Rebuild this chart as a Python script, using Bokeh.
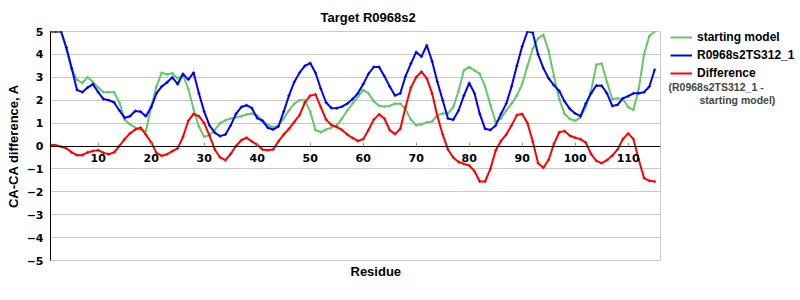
from bokeh.plotting import figure
from bokeh.layouts import row
from bokeh.models import Range1d, FixedTicker, Label, Legend, LegendItem, Title
from bokeh.embed import file_html
from bokeh.resources import INLINE

residues = list(range(1, 116))

starting_model = [
    5.0, 5.0, 5.0, 4.2, 3.35, 2.9, 2.75, 3.0, 2.8, 2.55,
    2.35, 2.35, 2.35, 1.9, 1.15, 0.95, 0.8, 0.72, 0.65, 1.7,
    2.6, 3.2, 3.12, 3.18, 2.95, 3.1, 2.5, 1.6, 0.85, 0.4,
    0.48, 0.7, 1.0, 1.12, 1.2, 1.25, 1.3, 1.38, 1.42, 1.32,
    1.12, 0.92, 0.82, 0.9, 1.2, 1.55, 1.85, 2.0, 2.0, 1.5,
    0.7, 0.6, 0.72, 0.8, 0.9, 1.2, 1.55, 1.85, 2.15, 2.45,
    2.3, 1.95, 1.76, 1.72, 1.75, 1.85, 1.85, 1.6, 1.15, 0.9,
    0.95, 1.03, 1.07, 1.35, 1.42, 1.42, 1.7, 2.4, 3.3, 3.45,
    3.3, 3.15, 2.6, 1.8, 1.05, 1.2, 1.55, 1.85, 2.2, 2.7,
    3.5, 4.25, 4.7, 4.85, 4.15, 3.05, 2.05, 1.4, 1.18, 1.1,
    1.25, 1.7, 2.4, 3.55, 3.6, 2.8, 2.05, 2.08, 2.05, 1.7,
    1.58, 2.5, 4.0, 4.8, 5.0,
]

model_ts312 = [
    5.0, 5.0, 5.0, 4.3, 3.4, 2.45, 2.35, 2.55, 2.7, 2.35,
    2.05, 2.0, 1.9, 1.55, 1.23, 1.3, 1.53, 1.5, 1.3, 1.7,
    2.3, 2.6, 2.78, 3.0, 2.7, 3.15, 2.9, 3.2, 2.3, 1.5,
    0.9, 0.58, 0.43, 0.5, 0.9, 1.4, 1.7, 1.78, 1.65, 1.22,
    1.1, 0.8, 0.72, 0.85, 1.5, 2.2, 2.8, 3.2, 3.5, 3.62,
    3.2, 2.5, 1.9, 1.66, 1.65, 1.72, 1.85, 2.05, 2.3, 2.7,
    3.15, 3.45, 3.45, 3.05, 2.6, 2.2, 2.3, 3.05, 3.6, 4.1,
    3.9, 4.4, 3.7, 2.8, 2.0, 1.2, 1.15, 1.55, 2.2, 2.75,
    2.3, 1.4, 0.75, 0.7, 0.9, 1.4, 1.85, 2.6, 3.5, 4.35,
    5.0, 4.95, 4.0, 3.4, 2.95, 2.65, 2.4, 1.95, 1.62, 1.42,
    1.3, 1.85, 2.3, 2.64, 2.63, 2.3, 1.75, 1.8, 2.08, 2.18,
    2.3, 2.3, 2.35, 2.6, 3.33,
]

difference = [
    0.05, 0.03, -0.03, -0.1, -0.28, -0.4, -0.4, -0.28, -0.22, -0.18,
    -0.3, -0.36, -0.28, 0.0, 0.3, 0.55, 0.72, 0.8, 0.5, 0.15,
    -0.3, -0.43, -0.36, -0.22, -0.1, 0.4, 1.1, 1.4, 1.3, 1.0,
    0.45, -0.15, -0.5, -0.62, -0.35, 0.0, 0.25, 0.36, 0.2, 0.05,
    -0.15, -0.19, -0.15, 0.2, 0.5, 0.75, 1.05, 1.35, 1.9, 2.2,
    2.25, 1.7, 1.15, 0.92, 0.83, 0.7, 0.5, 0.35, 0.22, 0.3,
    0.7, 1.15, 1.38, 1.2, 0.7, 0.52, 0.75, 1.7, 2.55, 3.0,
    3.25, 2.95, 2.3, 1.3, 0.5, -0.15, -0.5, -0.7, -0.78, -0.85,
    -1.1, -1.55, -1.55, -1.0, -0.2, 0.22, 0.5, 0.9, 1.35, 1.4,
    1.0, 0.2, -0.75, -0.95, -0.6, 0.1, 0.6, 0.65, 0.45, 0.36,
    0.3, 0.15, -0.35, -0.65, -0.75, -0.62, -0.42, -0.15, 0.3, 0.55,
    0.3, -0.6, -1.4, -1.52, -1.55,
]

x_ticks = [10, 20, 30, 40, 50, 60, 70, 80, 90, 100, 110]
y_ticks = [-5, -4, -3, -2, -1, 0, 1, 2, 3, 4, 5]

title_text = "Target R0968s2"
x_title = "Residue"
y_title = "CA-CA difference, A"
series_names = ["starting model", "R0968s2TS312_1", "Difference"]
diff_note = ["(R0968s2TS312_1 -", "starting model)"]

GREEN = "#66c766"
BLUE = "#0000ff"
RED = "#ff0000"
GRID = "#c8c8c8"
FONT = "Liberation Sans"
TICK_FONT = "DejaVu Sans"

p = figure(width=662, height=300, output_backend="svg", toolbar_location=None,
           x_range=Range1d(1, 116.1), y_range=Range1d(-5, 5),
           min_border_left=50, min_border_right=2, min_border_top=30,
           min_border_bottom=40)
p.background_fill_color = "white"
p.border_fill_color = "white"
p.outline_line_color = GRID

p.title.text = title_text
p.title.align = "left"
p.title.offset = 270
p.title.standoff = 14
p.title.text_font = FONT
p.title.text_font_style = "bold"
p.title.text_font_size = "13px"
p.title.text_color = "black"

p.xgrid.visible = False
p.ygrid.ticker = FixedTicker(ticks=y_ticks)
p.ygrid.grid_line_color = GRID

# y axis
p.yaxis.ticker = FixedTicker(ticks=y_ticks)
p.yaxis.major_label_overrides = {t: (str(t) if t >= 0 else "\u2212" + str(-t)) for t in y_ticks}
p.yaxis.major_tick_in = 0
p.yaxis.major_tick_out = 0
p.yaxis.minor_tick_line_color = None
p.yaxis.axis_line_color = "black"
p.yaxis.major_label_standoff = 7
p.yaxis.major_label_text_font = TICK_FONT
p.yaxis.major_label_text_font_style = "bold"
p.yaxis.major_label_text_font_size = "11px"
p.yaxis.major_label_text_color = "black"
p.yaxis.axis_label = y_title
p.yaxis.axis_label_text_font = FONT
p.yaxis.axis_label_text_font_style = "bold"
p.yaxis.axis_label_text_font_size = "13px"
p.yaxis.axis_label_text_color = "black"
p.yaxis.axis_label_standoff = 3

# x axis drawn at y = 0
p.xaxis.fixed_location = 0
p.xaxis.ticker = FixedTicker(ticks=x_ticks)
p.xaxis.major_tick_in = 4
p.xaxis.major_tick_out = 0
p.xaxis.major_tick_line_color = "#999999"
p.xaxis.minor_tick_line_color = None
p.xaxis.axis_line_color = "black"
p.xaxis.major_label_standoff = 8
p.xaxis.major_label_text_font = TICK_FONT
p.xaxis.major_label_text_font_style = "bold"
p.xaxis.major_label_text_font_size = "11px"
p.xaxis.major_label_text_color = "black"

p.add_layout(Title(text=x_title, align="left", offset=300, standoff=2,
                   text_font=FONT, text_font_style="bold", text_font_size="13px",
                   text_color="black"), "below")

p.line(residues, starting_model, line_color=GREEN, line_width=2)
p.scatter(residues, starting_model, marker="cross", size=3, line_color=GREEN, line_width=1)
p.line(residues, model_ts312, line_color=BLUE, line_width=2)
p.scatter(residues, model_ts312, marker="cross", size=3, line_color=BLUE, line_width=1)
p.line(residues, difference, line_color=RED, line_width=2)
p.scatter(residues, difference, marker="cross", size=3, line_color=RED, line_width=1)

# legend panel on the right; its frame is aligned with the main frame (y 30..260),
# so its y range is set in screen pixels
lp = figure(width=138, height=300, output_backend="svg", toolbar_location=None,
            title=None,
            x_range=Range1d(0, 138), y_range=Range1d(260, 30),
            x_axis_type=None, y_axis_type=None,
            min_border_left=0, min_border_right=0, min_border_top=30, min_border_bottom=40)
lp.grid.visible = False
lp.outline_line_color = None
lp.background_fill_color = "white"
lp.border_fill_color = "white"

lg = lp.line(residues, starting_model, line_color=GREEN, line_width=2, visible=False)
lb = lp.line(residues, model_ts312, line_color=BLUE, line_width=2, visible=False)
lr = lp.line(residues, difference, line_color=RED, line_width=2, visible=False)

legend = Legend(items=[LegendItem(label=series_names[0], renderers=[lg]),
                       LegendItem(label=series_names[1], renderers=[lb]),
                       LegendItem(label=series_names[2], renderers=[lr])],
                location=(8, 180), margin=0, padding=0, spacing=4,
                glyph_width=22, glyph_height=14, label_height=14, label_standoff=5,
                border_line_color=None, background_fill_alpha=0,
                inactive_fill_alpha=0,
                label_text_font=FONT, label_text_font_style="bold",
                label_text_font_size="12px", label_text_color="black")
lp.add_layout(legend)

lp.add_layout(Label(x=6, y=86, text=diff_note[0], text_align="left",
                    text_baseline="middle", text_font=FONT,
                    text_font_style="bold", text_font_size="10.5px"))
lp.add_layout(Label(x=37, y=99, text=diff_note[1], text_align="left",
                    text_baseline="middle", text_font=FONT,
                    text_font_style="bold", text_font_size="10.5px"))

layout = row(p, lp, spacing=0)
open("out.html", "w").write(file_html(layout, INLINE))
